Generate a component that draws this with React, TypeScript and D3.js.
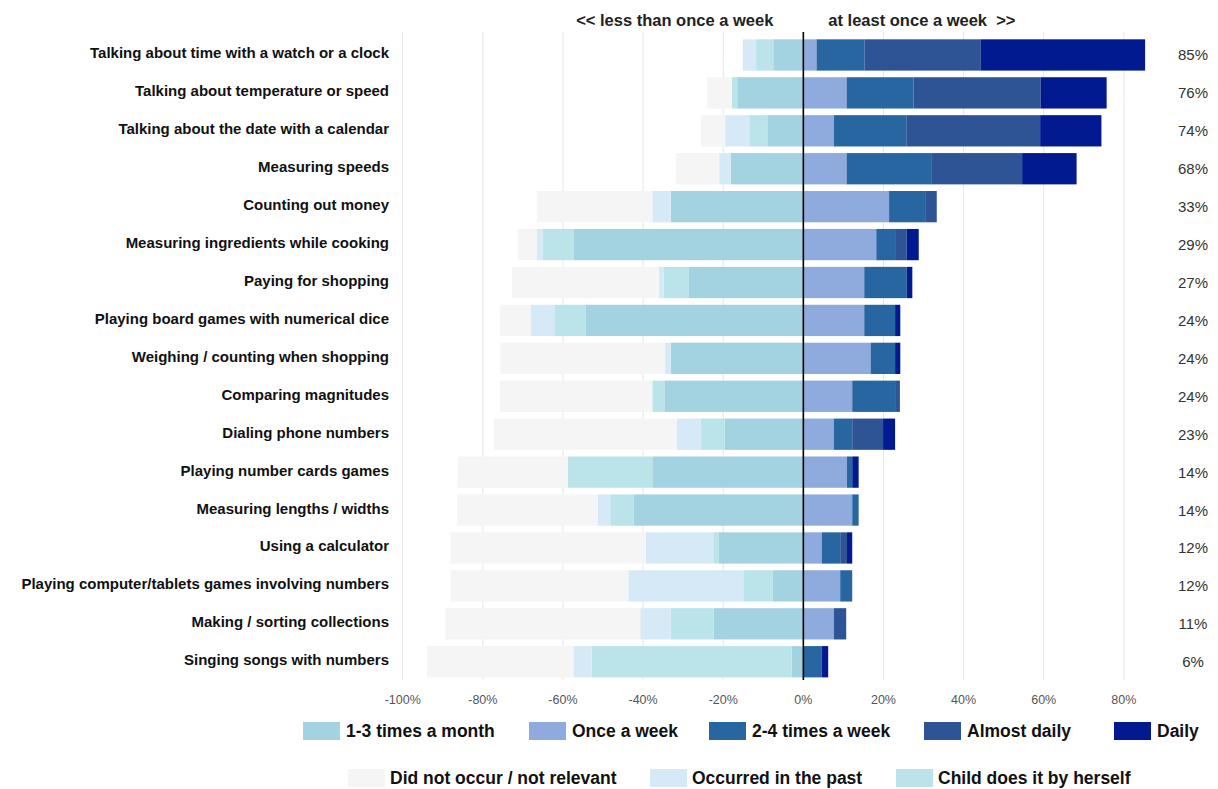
import React, { useEffect } from 'react';
import * as d3 from 'd3';

const categories = [
  'Talking about time with a watch or a clock',
  'Talking about temperature or speed',
  'Talking about the date with a calendar',
  'Measuring speeds',
  'Counting out money',
  'Measuring ingredients while cooking',
  'Paying for shopping',
  'Playing board games with numerical dice',
  'Weighing / counting when shopping',
  'Comparing magnitudes',
  'Dialing phone numbers',
  'Playing number cards games',
  'Measuring lengths / widths',
  'Using a calculator',
  'Playing computer/tablets games involving numbers',
  'Making / sorting collections',
  'Singing songs with numbers',
];

// "less than once a week" side (drawn to the left of zero)
const monthly = [7.5, 16.5, 9, 18.1, 33.1, 57.4, 28.7, 54.4, 33.1, 34.7, 19.6, 37.7, 42.3, 21.2, 7.6, 22.4, 2.9];
const child = [4.3, 1.3, 4.5, 0, 0, 7.6, 6.1, 7.6, 0, 3, 6, 21.1, 5.9, 1.3, 7.4, 10.7, 49.9];
const past = [3.3, 0, 6, 2.9, 4.6, 1.6, 1.3, 6, 1.4, 0, 6, 0, 3.1, 16.8, 28.7, 7.6, 4.6];
const notOccur = [0, 6.2, 6.1, 10.8, 28.8, 4.7, 36.6, 7.7, 41.1, 38, 45.6, 27.5, 35.1, 48.7, 44.3, 48.6, 36.5];

// "at least once a week" side (drawn to the right of zero)
const onceWeek = [3.3, 10.8, 7.6, 10.8, 21.4, 18.2, 15.2, 15.2, 16.8, 12.2, 7.6, 10.9, 12.2, 4.6, 9.2, 7.6, 0];
const twoFour = [12, 16.7, 18.1, 21.1, 9, 4.7, 10.6, 7.7, 6.1, 10.7, 4.6, 1.3, 1.6, 4.6, 3, 0, 4.6];
const almostDaily = [29, 31.7, 33.4, 22.7, 2.9, 2.9, 0, 0, 0, 1.2, 7.7, 0, 0, 1.7, 0, 3.1, 0];
const daily = [41, 16.5, 15.3, 13.6, 0, 3, 1.4, 1.3, 1.3, 0, 3, 1.6, 0, 1.3, 0, 0, 1.6];

const totalLabels = ['85%', '76%', '74%', '68%', '33%', '29%', '27%', '24%', '24%', '24%', '23%', '14%', '14%', '12%', '12%', '11%', '6%'];

const tickValues = [-100, -80, -60, -40, -20, 0, 20, 40, 60, 80];

const seriesKeys = ['monthly', 'child', 'past', 'notOccur', 'once', 'twoFour', 'almost', 'daily'];
const seriesNames: Record<string, string> = {
  monthly: '1-3 times a month',
  once: 'Once a week',
  twoFour: '2-4 times a week',
  almost: 'Almost daily',
  daily: 'Daily',
  notOccur: 'Did not occur / not relevant',
  past: 'Occurred in the past',
  child: 'Child does it by herself',
};
const colors: Record<string, string> = {
  monthly: '#a3d2e0',
  child: '#bae4e9',
  past: '#d5eaf6',
  notOccur: '#f5f5f5',
  once: '#8faadc',
  twoFour: '#2766a0',
  almost: '#2f5496',
  daily: '#021a8f',
};

const legendRow1 = ['monthly', 'once', 'twoFour', 'almost', 'daily'];
const legendRow2 = ['notOccur', 'past', 'child'];
const legendRow1X = [303, 529, 709, 924, 1114];
const legendRow2X = [348, 650, 896];

const FONT = '"Liberation Sans", Arial, Helvetica, sans-serif';

export default function App() {
  useEffect(() => {
    document.body.style.margin = '0';
  }, []);

  const W = 1218;
  const H = 789;

  const x = d3.scaleLinear().domain([-100, 100]).range([402.7, 1204]);
  const y = d3
    .scaleBand<string>()
    .domain(categories)
    .range([36, 680.7])
    .paddingInner(0.175)
    .paddingOuter(0.0875);

  const rows = categories.map((c, i) => ({
    cat: c,
    monthly: -monthly[i],
    child: -child[i],
    past: -past[i],
    notOccur: -notOccur[i],
    once: onceWeek[i],
    twoFour: twoFour[i],
    almost: almostDaily[i],
    daily: daily[i],
  }));

  const stacked = d3
    .stack<any>()
    .keys(seriesKeys)
    .offset(d3.stackOffsetDiverging)(rows);

  const gridTop = 32;
  const gridBottom = 680;
  const bw = y.bandwidth();

  return (
    <svg
      width={W}
      height={H}
      style={{ position: 'absolute', left: 0, top: 0, display: 'block', background: '#fff' }}
      fontFamily={FONT}
    >
      {/* gridlines */}
      {tickValues
        .filter((t) => t !== 0)
        .map((t) => (
          <line key={'g' + t} x1={x(t)} x2={x(t)} y1={gridTop} y2={gridBottom} stroke="#e6e6e6" strokeWidth={1} />
        ))}

      {/* bars */}
      {stacked.map((s) => (
        <g key={s.key} fill={colors[s.key]}>
          {s.map((d, i) => {
            const x0 = x(Math.min(d[0], d[1]));
            const x1 = x(Math.max(d[0], d[1]));
            if (x1 - x0 <= 0) return null;
            return <rect key={i} x={x0} y={y(categories[i])} width={x1 - x0} height={bw} />;
          })}
        </g>
      ))}

      {/* zero line */}
      <line x1={x(0)} x2={x(0)} y1={gridTop} y2={gridBottom} stroke="#000" strokeWidth={1.6} />

      {/* header */}
      <text x={x(0) - 30} y={20} textAnchor="end" dominantBaseline="central" fontSize={16.5} fontWeight="bold" fill="#222">
        {'<< less than once a week'}
      </text>
      <text
        x={x(0) + 25}
        y={20}
        textAnchor="start"
        dominantBaseline="central"
        fontSize={16.5}
        fontWeight="bold"
        fill="#222"
        style={{ whiteSpace: 'pre' }}
      >
        {'at least once a week  >>'}
      </text>

      {/* category labels */}
      {categories.map((c) => (
        <text
          key={'l' + c}
          x={389}
          y={(y(c) as number) + bw / 2 - 2}
          textAnchor="end"
          dominantBaseline="central"
          fontSize={15}
          fontWeight="bold"
          fill="#111"
        >
          {c}
        </text>
      ))}

      {/* right percentage labels */}
      {categories.map((c, i) => (
        <text
          key={'p' + c}
          x={1193}
          y={(y(c) as number) + bw / 2}
          textAnchor="middle"
          dominantBaseline="central"
          fontSize={15}
          fill="#333"
        >
          {totalLabels[i]}
        </text>
      ))}

      {/* x axis tick labels */}
      {tickValues.map((t) => (
        <text key={'t' + t} x={x(t)} y={700} textAnchor="middle" dominantBaseline="central" fontSize={12.5} fill="#555">
          {`${t}%`}
        </text>
      ))}

      {/* legend */}
      {legendRow1.map((k, i) => (
        <g key={'lg1' + k}>
          <rect x={legendRow1X[i]} y={722} width={37} height={18} fill={colors[k]} />
          <text x={legendRow1X[i] + 43} y={731} dominantBaseline="central" fontSize={17.5} fontWeight="bold" fill="#111">
            {seriesNames[k]}
          </text>
        </g>
      ))}
      {legendRow2.map((k, i) => (
        <g key={'lg2' + k}>
          <rect x={legendRow2X[i]} y={769} width={37} height={18} fill={colors[k]} />
          <text x={legendRow2X[i] + 42} y={778} dominantBaseline="central" fontSize={17.5} fontWeight="bold" fill="#111">
            {seriesNames[k]}
          </text>
        </g>
      ))}
    </svg>
  );
}
